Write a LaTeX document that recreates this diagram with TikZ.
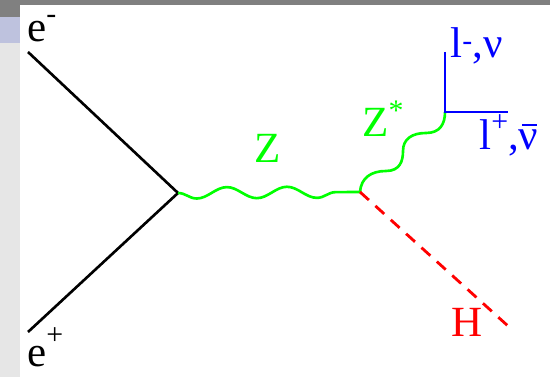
\documentclass[tikz,border=0pt]{standalone}
\usepackage{fontspec}
\setmainfont{Liberation Serif}
\newfontfamily\labelfont{Liberation Serif}
\usetikzlibrary{decorations.pathmorphing}
\definecolor{framegray}{HTML}{808080}
\definecolor{tablav}{HTML}{BEC2DE}
\definecolor{stripgray}{HTML}{E6E6E6}
\definecolor{bosongreen}{HTML}{00FF00}
\definecolor{leptonblue}{HTML}{0000FF}
\definecolor{higgsred}{HTML}{FF0000}
\newcommand{\sups}[2][0.5em]{\raisebox{#1}{\fontsize{17}{17}\selectfont #2}}
\newcommand{\nubar}{\mbox{\rlap{\kern0.07em\raisebox{0.56em}{\rule{0.36em}{0.05em}}}ν}}
\tikzset{
  fermion/.style={draw=black, line width=1.5pt},
  zprop/.style={draw=bosongreen, line width=1.5pt, decorate,
                decoration={snake, amplitude=3.2pt, segment length=34.2pt, mirror}},
  zstar/.style={draw=bosongreen, line width=1.5pt},
  lepton/.style={draw=leptonblue, line width=1.5pt},
  higgs/.style={draw=higgsred, line width=1.6pt, dash pattern=on 6.8pt off 5pt},
  plabel/.style={anchor=base west, inner sep=0, font=\labelfont\fontsize{24.5}{29}\selectfont},
}

\begin{document}
\begin{tikzpicture}[x=0.02cm, y=-0.02cm]
  % --- slide frame ---
  \useasboundingbox (0,0) rectangle (550,377);
  \fill[framegray] (0,0)  rectangle (550,5);
  \fill[framegray] (0,0)  rectangle (20,17);
  \fill[tablav]    (0,17) rectangle (20,43);
  \fill[stripgray] (0,43) rectangle (20,377);

  % --- vertices and free ends ---
  \coordinate (vee) at (178,193);
  \coordinate (vzh) at (360,192);
  \coordinate (vll) at (445,112);
  \coordinate (em)  at (28,52);
  \coordinate (ep)  at (28,332);
  \coordinate (lm)  at (445,52);
  \coordinate (lp)  at (508,112);
  \coordinate (hh)  at (508,326);

  % --- lines ---
  \draw[fermion] (em) -- (vee) -- (ep);
  \draw[zprop] (vee) -- (vzh);
  \draw[zstar] (vzh) .. controls (361,178) and (371,171) .. (386,171)
                     .. controls (400,171) and (403,161) .. (403,151)
                     .. controls (403,139) and (412,133) .. (426,133)
                     .. controls (440,133) and (445,124) .. (vll);
  \draw[lepton] (lm) -- (vll) -- (lp);
  \draw[higgs] (vzh) -- (hh);

  % --- labels ---
  \node[plabel] (eminus) at (27,42)  {e\sups[0.44em]{-}};
  \node[plabel] (eplus)  at (27,367) {e\sups[0.53em]{+}};
  \node[plabel, text=bosongreen] (zlbl)  at (254,163) {Z};
  \node[plabel, text=bosongreen] (zslbl) at (362,137) {Z\sups[0.38em]{*}};
  \node[plabel, text=leptonblue] (lmlbl) at (450,58)  {l\sups[0.17em]{-},ν};
  \node[plabel, text=leptonblue] (lplbl) at (479,150) {l\sups[0.42em]{+},\nubar};
  \node[plabel, text=higgsred]   (hlbl)  at (451,337) {H};
\end{tikzpicture}
\end{document}
